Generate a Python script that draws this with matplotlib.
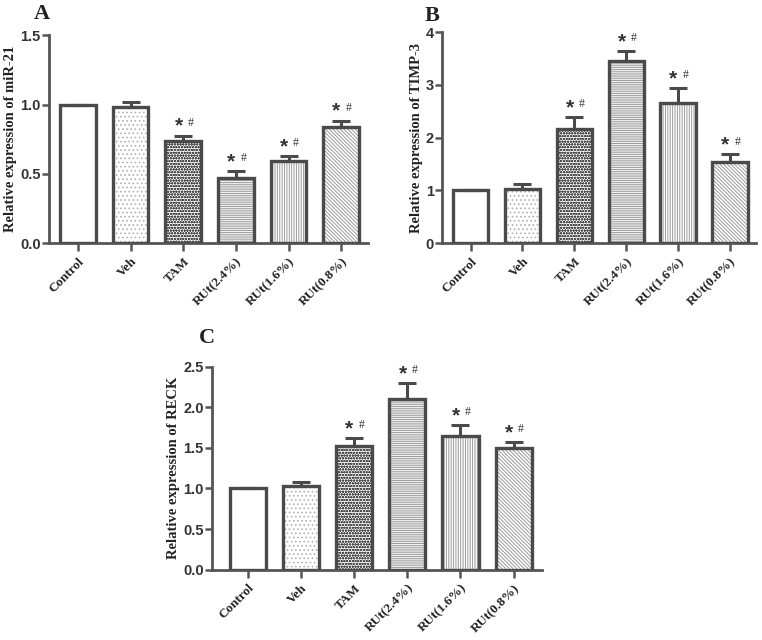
import matplotlib
matplotlib.use("Agg")
import matplotlib.pyplot as plt

groups = ["Control", "Veh", "TAM", "RUt(2.4%)", "RUt(1.6%)", "RUt(0.8%)"]

mir21 = [1.00, 0.98, 0.74, 0.47, 0.59, 0.84]
mir21_err = [0.0, 0.04, 0.035, 0.048, 0.036, 0.043]

timp3 = [1.00, 1.03, 2.16, 3.45, 2.66, 1.54]
timp3_err = [0.0, 0.09, 0.23, 0.19, 0.28, 0.14]

reck = [1.00, 1.03, 1.52, 2.10, 1.65, 1.50]
reck_err = [0.0, 0.05, 0.10, 0.20, 0.13, 0.07]

# significance marks (* vs control, # vs vehicle)
marked = [False, False, True, True, True, True]

hatches = ["", "....", "oooooo", "-" * 9, "|" * 7, "\\" * 9]
hatch_cols = ["white", "#b0b0b0", "#505050", "#9a9a9a", "#9a9a9a", "#9a9a9a"]
edge = "#4a4a4a"
serif = ["Liberation Serif", "DejaVu Serif"]
sans = ["Liberation Sans", "DejaVu Sans"]

plt.rcParams["hatch.linewidth"] = 0.7


def draw_panel(ax, vals, errs, ylim, yticks, ylabel, xlim):
    x = list(range(len(vals)))
    for i, v in enumerate(vals):
        plt.rcParams["hatch.color"] = hatch_cols[i]
        ax.bar(i, v, width=0.68, color="white", hatch=hatches[i],
               edgecolor=hatch_cols[i], linewidth=0, zorder=2)
    ax.bar(x, vals, width=0.68, fill=False, edgecolor=edge,
           linewidth=2.4, zorder=3)
    ax.errorbar(x, vals, yerr=[[0] * len(vals), errs], fmt="none",
                ecolor=edge, elinewidth=2.2, capsize=6.5, capthick=2.2,
                zorder=4)
    for i, v in enumerate(vals):
        if marked[i]:
            top = v + errs[i]
            ax.annotate("*", (i - 0.09, top), xytext=(0, 0),
                        textcoords="offset points", ha="center",
                        va="bottom", fontsize=15, fontweight="bold",
                        color="#333333", family=sans)
            ax.annotate("#", (i + 0.14, top), xytext=(0, 5),
                        textcoords="offset points", ha="center",
                        va="bottom", fontsize=8.5, color="#333333",
                        family=serif)
    ax.set_xlim(*xlim)
    ax.set_ylim(*ylim)
    ax.set_yticks(yticks)
    ax.set_xticks(x)
    ax.set_xticklabels(groups, rotation=45, ha="right",
                       rotation_mode="anchor", family=serif,
                       fontweight="bold", fontsize=9.5, color="#222222")
    ax.set_ylabel(ylabel, family=serif, fontweight="bold", fontsize=10.5,
                  color="#222222", labelpad=2)
    for s in ["top", "right"]:
        ax.spines[s].set_visible(False)
    for s in ["left", "bottom"]:
        ax.spines[s].set_color("#555555")
        ax.spines[s].set_linewidth(2)
    ax.tick_params(axis="both", color="#555555", width=1.8, length=5)
    ax.tick_params(axis="x", length=6, pad=3)
    ax.tick_params(axis="y", pad=1)


def style_yticks(ax, fmt=None):
    if fmt:
        ax.yaxis.set_major_formatter(matplotlib.ticker.FormatStrFormatter(fmt))
    for lab in ax.get_yticklabels():
        lab.set_family(sans)
        lab.set_fontweight("bold")
        lab.set_fontsize(10.5)
        lab.set_color("#333333")


fig = plt.figure(figsize=(7.62, 6.4), dpi=100)

ax_a = fig.add_axes([0.0643, 0.620, 0.418, 0.325])
draw_panel(ax_a, mir21, mir21_err, (0, 1.5), [0, 0.5, 1.0, 1.5],
           "Relative expression of miR-21", (-0.55, 5.5))
style_yticks(ax_a, "%.1f")

ax_b = fig.add_axes([0.580, 0.620, 0.412, 0.330])
draw_panel(ax_b, timp3, timp3_err, (0, 4), [0, 1, 2, 3, 4],
           "Relative expression of TIMP-3", (-0.55, 5.5))
style_yticks(ax_b)

ax_c = fig.add_axes([0.278, 0.110, 0.433, 0.317])
draw_panel(ax_c, reck, reck_err, (0, 2.5), [0, 0.5, 1.0, 1.5, 2.0, 2.5],
           "Relative expression of RECK", (-0.68, 5.53))
style_yticks(ax_c, "%.1f")

for letter, px, py in [("A", 42, 14), ("B", 432, 16), ("C", 207, 338)]:
    fig.text(px / 762, 1 - py / 640, letter, family=serif,
             fontweight="bold", fontsize=16, ha="center", va="center",
             color="#222222")

fig.savefig("out.png", dpi=100)
